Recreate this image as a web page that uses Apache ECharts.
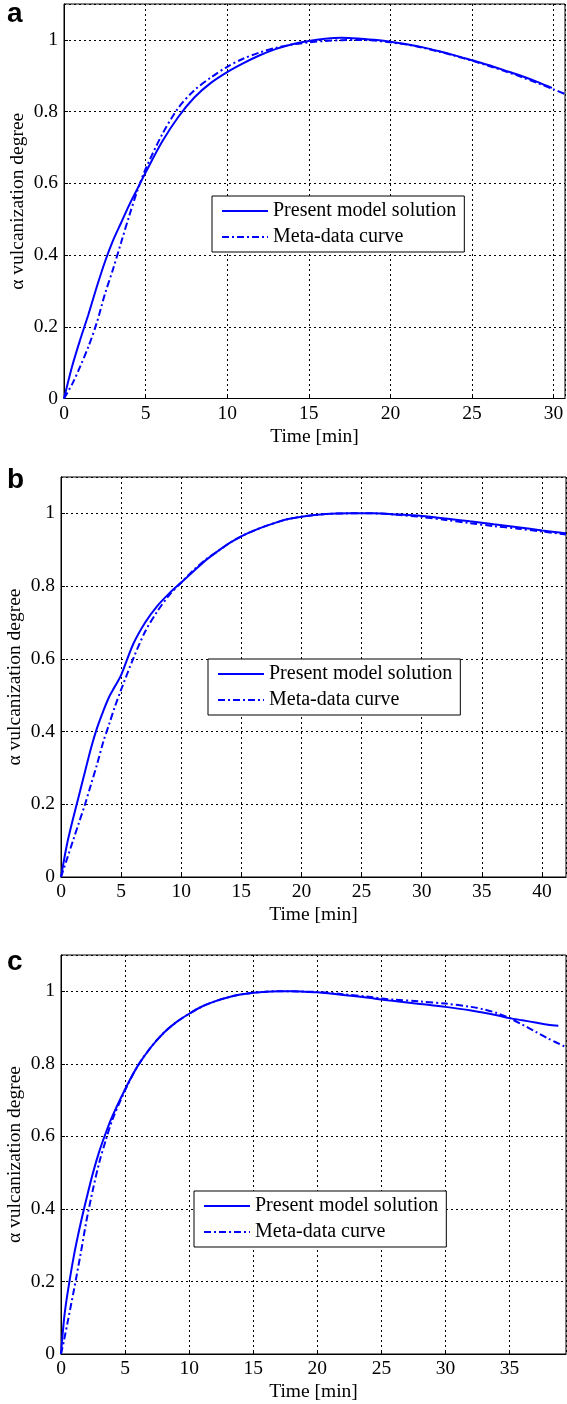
<!DOCTYPE html>
<html><head><meta charset="utf-8">
<script src="https://cdn.jsdelivr.net/npm/echarts@6/dist/echarts.min.js"></script>
<style>html,body{margin:0;padding:0;background:#fff}#c{width:567px;height:1404px}</style>
</head><body><div id="c"></div>
<script>
// Panel a
const aModelT = [0,0.5,1,1.5,2,2.5,3,3.5,4,4.5,5,6,7,8,9,10,11,12,13,14,15,16,17,18,19,20,21,22,23,24,25,26,27,28,29,29.9];
const aModelY = [0,0.09,0.165,0.235,0.31,0.38,0.44,0.49,0.54,0.585,0.63,0.715,0.785,0.84,0.88,0.91,0.935,0.957,0.975,0.988,0.997,1.003,1.006,1.004,1.0,0.995,0.988,0.979,0.968,0.956,0.943,0.93,0.915,0.9,0.883,0.866];
const aMetaT = [0,0.5,1,1.5,2,2.5,3,3.5,4,4.5,5,6,7,8,9,10,11,12,13,14,15,16,17,18,19,20,21,22,23,24,25,26,27,28,29,30,30.7];
const aMetaY = [0,0.04,0.09,0.145,0.21,0.29,0.36,0.435,0.51,0.58,0.64,0.735,0.81,0.86,0.895,0.925,0.948,0.965,0.978,0.987,0.993,0.997,0.999,1.0,0.998,0.993,0.987,0.978,0.967,0.955,0.942,0.928,0.913,0.897,0.88,0.862,0.849];
// Panel b
const bModelT = [0,0.5,1,1.5,2,2.5,3,3.5,4,4.5,5,6,7,8,9,10,11,12,13,14,15,16,17,18,19,20,22,24,25,26,28,30,32,34,36,38,40,42];
const bModelY = [0,0.09,0.16,0.225,0.29,0.355,0.41,0.455,0.495,0.525,0.555,0.64,0.7,0.745,0.78,0.81,0.84,0.87,0.895,0.918,0.937,0.952,0.965,0.976,0.985,0.991,0.998,1.0,1.0,1.0,0.997,0.993,0.986,0.978,0.97,0.962,0.953,0.945];
const bMetaT = [0,0.5,1,1.5,2,2.5,3,3.5,4,4.5,5,6,7,8,9,10,11,12,13,14,15,16,17,18,19,20,22,24,25,26,28,30,32,34,36,38,40,42];
const bMetaY = [0,0.05,0.1,0.15,0.2,0.255,0.31,0.37,0.42,0.47,0.515,0.6,0.675,0.73,0.775,0.81,0.843,0.872,0.895,0.918,0.937,0.952,0.965,0.976,0.985,0.991,0.998,1.0,1.0,1.0,0.996,0.99,0.982,0.973,0.965,0.958,0.95,0.942];
// Panel c
const cModelT = [0,0.25,0.5,1,1.5,2,2.5,3,3.5,4,5,6,7,8,9,10,11,12,13,14,15,16,17,18,19,20,22,24,25,26,28,30,32,34,35,36,37,38,38.8];
const cModelY = [0,0.1,0.165,0.27,0.355,0.43,0.5,0.56,0.61,0.655,0.73,0.795,0.845,0.885,0.915,0.938,0.958,0.972,0.983,0.991,0.996,0.999,1.0,1.0,0.999,0.997,0.99,0.982,0.977,0.973,0.965,0.957,0.947,0.934,0.926,0.92,0.914,0.908,0.905];
const cMetaT = [0,0.25,0.5,1,1.5,2,2.5,3,3.5,4,5,6,7,8,9,10,11,12,13,14,15,16,17,18,19,20,22,24,25,26,28,30,32,33,34,35,36,37,38,39.4];
const cMetaY = [0,0.04,0.085,0.175,0.27,0.37,0.455,0.53,0.59,0.645,0.727,0.795,0.845,0.885,0.915,0.938,0.958,0.972,0.983,0.991,0.996,0.999,1.0,1.0,0.999,0.998,0.992,0.985,0.98,0.977,0.972,0.966,0.957,0.95,0.94,0.926,0.908,0.889,0.87,0.846];

const panelLabels = ['a','b','c'];
const xMax = [30.7, 42, 39.4];
const xName = 'Time [min]';
const yName = 'α vulcanization degree';
const names = ['Present model solution','Meta-data curve'];

const zip = (t,y) => t.map((v,i)=>[v,y[i]]);
const modelData = [zip(aModelT,aModelY), zip(bModelT,bModelY), zip(cModelT,cModelY)];
const metaData = [zip(aMetaT,aMetaY), zip(bMetaT,bMetaY), zip(cMetaT,cMetaY)];

const FONT = '"Liberation Serif", "Times New Roman", serif';
const AX_FS = 19.5;
const grids = [
  {left:64, top:4, width:501, height:394.5},
  {left:61, top:477, width:505, height:400},
  {left:61, top:955, width:505, height:399}
];
const legendPos = [{left:212, top:196},{left:208, top:659},{left:194, top:1191}];
const titlePos = [{left:7, top:0},{left:7, top:466},{left:7, top:948}];

const grid = grids.map(g=>Object.assign({show:true, borderColor:'#000', borderWidth:1, containLabel:false, outerBoundsMode:'none'}, g));
const xAxis = [], yAxis = [], series = [], legend = [], title = [];
for (let i=0;i<3;i++){
  xAxis.push({type:'value', gridIndex:i, min:0, max:xMax[i], interval:5,
    name:xName, nameLocation:'middle', nameGap:28, nameMoveOverlap:false,
    nameTextStyle:{fontFamily:FONT, fontSize:AX_FS, color:'#000'},
    axisLine:{show:true, lineStyle:{color:'#000', width:1}},
    axisTick:{show:true, inside:true, length:4, lineStyle:{color:'#000'}},
    axisLabel:{fontFamily:FONT, fontSize:AX_FS, color:'#000', margin:5, showMaxLabel:false},
    splitLine:{show:true, lineStyle:{color:'#000', type:[2,3], width:1}}
  });
  yAxis.push({type:'value', gridIndex:i, min:0, max:1.1, interval:0.2,
    name:yName, nameLocation:'middle', nameGap:36, nameRotate:90, nameMoveOverlap:false,
    nameTextStyle:{fontFamily:FONT, fontSize:AX_FS, color:'#000'},
    axisLine:{show:true, lineStyle:{color:'#000', width:1}},
    axisTick:{show:true, inside:true, length:4, lineStyle:{color:'#000'}},
    axisLabel:{fontFamily:FONT, fontSize:AX_FS, color:'#000', margin:6, showMaxLabel:false,
      formatter:v=>{ if (Math.abs(v-Math.round(v))<1e-9) return String(Math.round(v)); return String(+v.toFixed(1)); }},
    splitLine:{show:true, lineStyle:{color:'#000', type:[2,3], width:1}}
  });
  series.push({name:names[0], type:'line', xAxisIndex:i, yAxisIndex:i, data:modelData[i],
    showSymbol:false, symbol:'none', smooth:0.3, lineStyle:{color:'#0000ff', width:2}, itemStyle:{color:'#0000ff'}, z:3});
  series.push({name:names[1], type:'line', xAxisIndex:i, yAxisIndex:i, data:metaData[i],
    showSymbol:false, symbol:'none', smooth:0.3, lineStyle:{color:'#0000ff', width:2, type:[7,3,2,3]}, itemStyle:{color:'#0000ff'}, z:2});
  legend.push(Object.assign({orient:'vertical', data:names, itemWidth:46, itemHeight:14, itemGap:6,
    backgroundColor:'#fff', borderColor:'#000', borderWidth:1, borderRadius:0, padding:[5,8,5,9],
    selectedMode:false, itemStyle:{opacity:0, borderWidth:0},
    textStyle:{fontFamily:FONT, fontSize:20, color:'#000'}}, legendPos[i]));
  title.push(Object.assign({text:panelLabels[i], textStyle:{fontFamily:'"Liberation Sans", Arial, sans-serif', fontWeight:'bold', fontSize:28, color:'#000'}, padding:0}, titlePos[i]));
}

const chart = echarts.init(document.getElementById('c'), null, {renderer:'canvas'});
chart.setOption({animation:false, backgroundColor:'#fff', title, grid, xAxis, yAxis, legend, series});
</script>
</body></html>
